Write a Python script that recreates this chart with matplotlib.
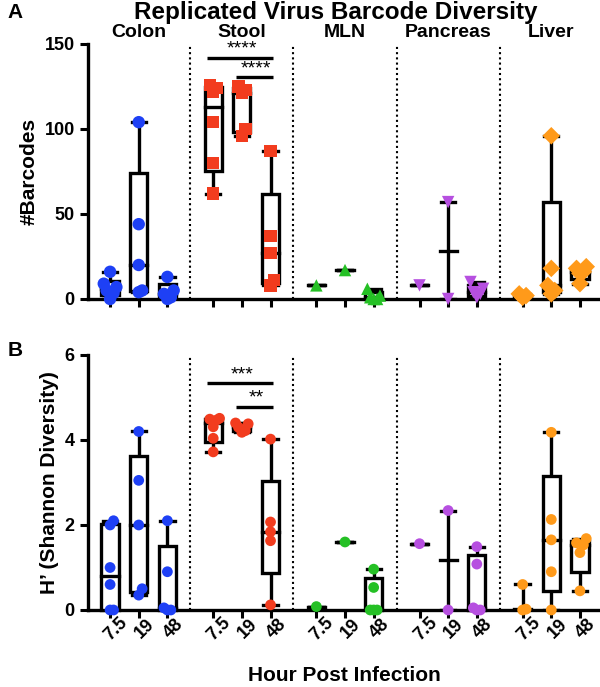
import numpy as np
import matplotlib
matplotlib.use("Agg")
import matplotlib.pyplot as plt
from matplotlib import rcParams

rcParams['font.family'] = ['Liberation Sans', 'DejaVu Sans']
rcParams['font.weight'] = 'bold'
rcParams['axes.labelweight'] = 'bold'

tissues = ["Colon", "Stool", "MLN", "Pancreas", "Liver"]
hours = ["7.5", "19", "48"]
colors = ["#1e40f5", "#f23c1e", "#25c025", "#b64fe0", "#ff9a1a"]
markers_a = ["o", "s", "^", "v", "D"]

# #Barcodes, per tissue, per hour
barcodes = {
    "Colon":    [[0, 3.5, 5, 7, 9, 16], [4, 5, 20, 44, 104], [0, 1, 3, 5, 13]],
    "Stool":    [[62, 80, 104, 122, 124, 126], [96, 100, 121, 123, 125], [8, 11, 27, 37, 87]],
    "MLN":      [[8], [17], [0, 0, 1, 2, 6]],
    "Pancreas": [[8], [0, 57], [1, 3, 4, 6, 10]],
    "Liver":    [[1, 2, 3], [3, 5, 8, 18, 96], [9, 15, 16, 18, 19]],
}

# H' (Shannon diversity)
shannon = {
    "Colon":    [[0, 0, 0.6, 1.0, 2.0, 2.1], [0.35, 0.5, 2.0, 3.05, 4.2], [0, 0, 0.05, 0.9, 2.1]],
    "Stool":    [[3.72, 4.04, 4.31, 4.47, 4.49, 4.51], [4.18, 4.22, 4.3, 4.38, 4.4], [0.12, 1.63, 1.84, 2.07, 4.02]],
    "MLN":      [[0.08], [1.6], [0, 0, 0, 0.53, 0.96]],
    "Pancreas": [[1.56], [0, 2.34], [0, 0, 0.05, 1.08, 1.49]],
    "Liver":    [[0, 0.02, 0.6], [0, 0.9, 1.65, 2.13, 4.18], [0.45, 1.35, 1.53, 1.58, 1.68]],
}

# significance bars: (tissue, from hour idx, to hour idx, y, label)
sig_a = [("Stool", 0, 2, 142, "****"), ("Stool", 1, 2, 130.5, "****")]
sig_b = [("Stool", 0, 2, 5.34, "***"), ("Stool", 1, 2, 4.78, "**")]

group_gap = 3.6
box_w = 0.6
lw = 2.4


def positions(ti):
    return [ti * group_gap + k for k in range(3)]


def spread(v, thr):
    # small sideways offsets for points that would overlap
    order = np.argsort(v)
    offs = np.zeros(len(v))
    prev = None
    step = 0
    for i in order:
        if prev is not None and v[i] - v[prev] < thr:
            step += 1
            offs[i] = [0.12, -0.12, 0.22, -0.22, 0.0][(step - 1) % 5]
        else:
            step = 0
        prev = i
    return offs


def draw_panel(ax, data, markers, msize, ylim, yticks, sigs):
    for ti, t in enumerate(tissues):
        pos = positions(ti)
        for k, vals in enumerate(data[t]):
            v = np.array(vals, dtype=float)
            x = pos[k]
            if len(v) > 3:
                q1, med, q3 = np.percentile(v, [25, 50, 75], method="weibull")
                ax.plot([x, x], [v.min(), q1], color="k", lw=lw, zorder=2, solid_capstyle="butt")
                ax.plot([x, x], [q3, v.max()], color="k", lw=lw, zorder=2, solid_capstyle="butt")
                ax.add_patch(plt.Rectangle((x - box_w / 2, q1), box_w, q3 - q1, fc="white",
                                           ec="k", lw=lw, zorder=3, clip_on=False))
                ax.plot([x - box_w / 2, x + box_w / 2], [med, med], color="k", lw=lw, zorder=3)
            else:
                med = np.median(v)
                if len(v) > 1:
                    ax.plot([x, x], [v.min(), v.max()], color="k", lw=lw, zorder=2)
                ax.plot([x - box_w / 2, x + box_w / 2], [med, med], color="k", lw=lw, zorder=3)
            ax.plot([x - 0.25, x + 0.25], [v.max(), v.max()], color="k", lw=lw, zorder=2)
            ax.plot([x - 0.25, x + 0.25], [v.min(), v.min()], color="k", lw=lw, zorder=2)
            offs = spread(v, (ylim[1] - ylim[0]) * 0.03)
            ax.scatter(x + offs, v, marker=markers[ti], s=msize, color=colors[ti],
                       edgecolors="none", zorder=5, clip_on=False)
        if ti < len(tissues) - 1:
            ax.axvline(pos[2] + (group_gap - 2) / 2, color="k", ls=(0, (1, 1.5)), lw=1.5, zorder=1)
    for t, i0, i1, y, lab in sigs:
        ti = tissues.index(t)
        p = positions(ti)
        ax.plot([p[i0] - 0.2, p[i1] + 0.1], [y, y], color="k", lw=lw, solid_capstyle="butt")
        ax.text((p[i0] + p[i1]) / 2, y, lab, ha="center", va="bottom", fontsize=14, fontweight="normal")

    allpos = [p for ti in range(len(tissues)) for p in positions(ti)]
    ax.set_xlim(-0.77, 17.1)
    ax.set_ylim(*ylim)
    ax.set_yticks(yticks)
    ax.set_xticks(allpos)
    for s in ["top", "right"]:
        ax.spines[s].set_visible(False)
    for s in ["left", "bottom"]:
        ax.spines[s].set_linewidth(2.4)
    ax.tick_params(width=2.2, length=6, labelsize=13)
    return allpos


fig = plt.figure(figsize=(6.0, 6.87), dpi=100)
ax1 = fig.add_axes([0.1467, 0.5648, 0.8533, 0.3712])
ax2 = fig.add_axes([0.1467, 0.1121, 0.8533, 0.3712])

draw_panel(ax1, barcodes, markers_a, 80, (0, 150), [0, 50, 100, 150], sig_a)
draw_panel(ax2, shannon, ["o"] * 5, 60, (0, 6), [0, 2, 4, 6], sig_b)

ax1.set_xticklabels([])
ax2.set_xticklabels(hours * len(tissues), rotation=45, ha="right", rotation_mode="anchor")
for lab in ax2.get_xticklabels():
    lab.set_ha("center")

ax1.set_ylabel("#Barcodes", fontsize=15, labelpad=4)
ax2.set_ylabel("H\u2019 (Shannon Diversity)", fontsize=15, labelpad=4)
ax2.set_xlabel("Hour Post Infection", fontsize=15, labelpad=16)

for ti, t in enumerate(tissues):
    ax1.text(positions(ti)[1], 152, t, ha="center", va="bottom", fontsize=14)

fig.text(0.56, 0.982, "Replicated Virus Barcode Diversity", ha="center", va="center", fontsize=17.5)
fig.text(0.013, 0.982, "A", ha="left", va="center", fontsize=15)
fig.text(0.013, 0.49, "B", ha="left", va="center", fontsize=15)

fig.savefig("out.png", dpi=100)
